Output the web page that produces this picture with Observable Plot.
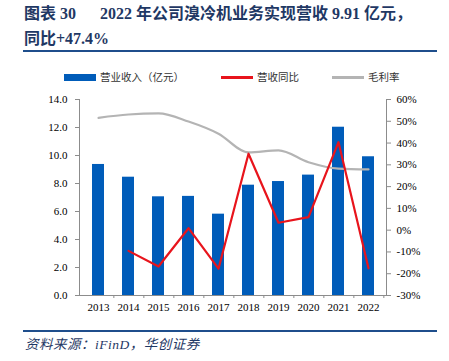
<!DOCTYPE html>
<html><head><meta charset="utf-8">
<script src="https://cdn.jsdelivr.net/npm/d3@7"></script>
<script src="https://cdn.jsdelivr.net/npm/@observablehq/plot@0.6"></script>
<style>
body{margin:0;background:#fff;}
#wrap{position:relative;width:449px;height:361px;overflow:hidden;background:#fff;}
#wrap svg{position:absolute;left:0;top:0;}
.t{position:absolute;white-space:pre;font-family:"Liberation Serif","Noto Sans CJK SC",serif;font-weight:bold;color:#1f3864;font-size:16px;line-height:1;}
.rule{position:absolute;left:23px;width:414px;height:2px;background:#1f4e8c;}
.lg{position:absolute;font-family:"Noto Sans CJK SC",sans-serif;font-size:10.5px;color:#333;line-height:1;white-space:pre;}
.sw{position:absolute;}
.src{position:absolute;left:25px;top:338px;font-family:"Liberation Serif","Noto Sans CJK SC",serif;font-style:italic;font-size:13.5px;letter-spacing:0.5px;color:#1f3864;white-space:pre;line-height:1;}
</style></head>
<body><div id="wrap">
</div>
<script>
const years = ["2013","2014","2015","2016","2017","2018","2019","2020","2021","2022"];
const revenue = [9.36, 8.45, 7.05, 7.08, 5.81, 7.88, 8.14, 8.60, 12.02, 9.91];
const yoyYears = ["2014","2015","2016","2017","2018","2019","2020","2021","2022"];
const yoy = [-9.5, -16.7, 0.9, -17.7, 35.1, 3.4, 6.0, 40.4, -17.5];
const margin = [51.6, 53.1, 53.6, 49.9, 44.3, 35.7, 36.6, 31.2, 28.3, 27.9];
const leftTicks = [0, 2, 4, 6, 8, 10, 12, 14];
const rightTicks = [-30, -20, -10, 0, 10, 20, 30, 40, 50, 60];

// map right-axis percentage onto left scale [0,14] <-> [-30%,60%]
const toLeft = p => (p + 30) * 14 / 90;
const fromLeft = v => v * 90 / 14 - 30;

const bars = years.map((y, i) => ({year: y, value: revenue[i]}));
const yoyData = yoyYears.map((y, i) => ({year: y, value: toLeft(yoy[i])}));
const marginData = years.map((y, i) => ({year: y, value: toLeft(margin[i])}));

const axisColor = "#8c8c8c";
const font = '"Liberation Serif","Times New Roman",serif';

const chart = Plot.plot({
  width: 449, height: 361,
  marginTop: 99, marginBottom: 66, marginLeft: 79, marginRight: 63,
  style: {fontFamily: font, fontSize: "11px", color: "#000", background: "transparent"},
  x: {type: "band", domain: years, padding: 0},
  y: {domain: [0, 14]},
  marks: [
    Plot.barY(bars, {x: "year", y: "value", fill: "#005cb9", insetLeft: 9, insetRight: 9}),
    Plot.line(marginData, {x: "year", y: "value", stroke: "#b4b4b4", strokeWidth: 2.2, curve: "monotone-x"}),
    Plot.line(yoyData, {x: "year", y: "value", stroke: "#e8141c", strokeWidth: 2.2}),
    Plot.frame({anchor: "left", stroke: axisColor}),
    Plot.frame({anchor: "right", stroke: axisColor}),
    Plot.frame({anchor: "bottom", stroke: axisColor}),
    Plot.axisY(leftTicks, {anchor: "left", tickSize: 4, tickPadding: 8, stroke: axisColor, tickFormat: d3.format(".1f"), label: null, fill: "#000"}),
    Plot.axisY(rightTicks.map(toLeft), {anchor: "right", tickSize: 4, tickPadding: 6, stroke: axisColor, tickFormat: d => Math.round(fromLeft(d)) + "%", label: null, fill: "#000"}),
    Plot.axisX(years, {anchor: "bottom", tickSize: 0, tickPadding: 8, label: null, fill: "#000"}),
    Plot.axisX(years, {anchor: "bottom", tickSize: 3, tickFormat: null, label: null, stroke: axisColor, dx: 15.35})
  ]
});
const wrap = document.getElementById("wrap");
wrap.appendChild(chart);

const html = `
<div class="t" style="left:24px;top:6px;">图表 30</div>
<div class="t" style="left:100px;top:6px;">2022 年公司溴冷机业务实现营收 9.91 亿元，</div>
<div class="t" style="left:24px;top:31px;">同比+47.4%</div>
<div class="rule" style="top:50px;"></div>
<div class="sw" style="left:64px;top:74px;width:32px;height:7px;background:#005cb9;"></div>
<div class="lg" style="left:100px;top:72px;">营业收入（亿元）</div>
<div class="sw" style="left:221px;top:76px;width:32px;height:2.5px;background:#e8141c;"></div>
<div class="lg" style="left:257px;top:72px;">营收同比</div>
<div class="sw" style="left:332px;top:76px;width:32px;height:2.5px;background:#b4b4b4;"></div>
<div class="lg" style="left:368px;top:72px;">毛利率</div>
<div class="rule" style="top:330px;"></div>
<div class="src">资料来源：iFinD，华创证券</div>
`;
wrap.insertAdjacentHTML("beforeend", html);
</script>
</body></html>
